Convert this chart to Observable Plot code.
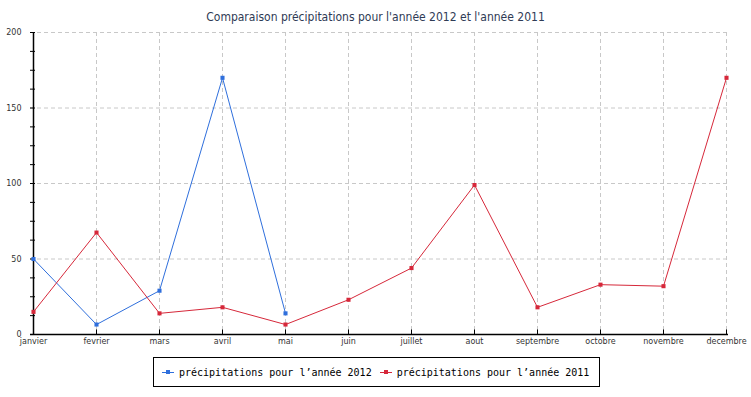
<!DOCTYPE html>
<html><head><meta charset="utf-8">
<script src="https://cdn.jsdelivr.net/npm/d3@7"></script>
<script src="https://cdn.jsdelivr.net/npm/@observablehq/plot@0.6"></script>
<style>
body{margin:0;background:#fff;}
#wrap{width:751px;height:397px;position:relative;}
#title{height:16px;padding-top:10px;text-align:center;font:12px "DejaVu Sans Condensed","DejaVu Sans",sans-serif;line-height:14px;color:#2f3b55;}
#legend{position:absolute;left:153px;top:357px;width:445px;height:28px;border:1px solid #000;box-sizing:content-box;font:10px "DejaVu Sans Mono",monospace;display:flex;align-items:center;padding-left:0;}
#legend span.sw{display:inline-block;position:relative;width:12px;height:10px;margin:0 5px 0 8px;}
#legend span.sw:before{content:"";position:absolute;left:0;right:0;top:5px;height:1px;background:currentColor;}
#legend span.sw:after{content:"";position:absolute;left:4px;top:3px;width:4px;height:4px;background:currentColor;}
</style></head>
<body><div id="wrap"><div id="title">Comparaison précipitations pour l'année 2012 et l'année 2011</div><div id="chart"></div>
<div id="legend"></div></div>
<script>
const months = ["janvier","fevrier","mars","avril","mai","juin","juillet","aout","septembre","octobre","novembre","decembre"];
const rain2012 = [50, 6.6, 29, 170, 14];
const rain2011 = [15, 67.5, 14, 18, 6.6, 23, 44, 99, 18, 33, 32, 170];
const seriesNames = ["précipitations pour l’année 2012", "précipitations pour l’année 2011"];
const seriesColors = ["#2f6fdc", "#d6283a"];
const yTicks = [0, 50, 100, 150, 200];
const yMinor = d3.range(0, 200.1, 12.5);

const d2012 = rain2012.map((v, i) => ({month: months[i], value: v}));
const d2011 = rain2011.map((v, i) => ({month: months[i], value: v}));

const chart = Plot.plot({
  width: 751, height: 324,
  marginTop: 6, marginBottom: 16, marginLeft: 30, marginRight: 23,
  style: {fontFamily: "'DejaVu Sans', sans-serif", background: "#fff"},
  x: {type: "point", domain: months, padding: 0, label: null},
  y: {domain: [0, 200], label: null},
  marks: [
    Plot.ruleY(yTicks.filter(d => d > 0), {stroke: "#c8c8c8", strokeDasharray: "4,3", strokeOpacity: 1}),
    Plot.ruleX(months.slice(1), {stroke: "#c8c8c8", strokeDasharray: "4,3", strokeOpacity: 1}),
    Plot.axisY({ticks: yTicks, tickSize: 0, tickPadding: 9, fontSize: 8, color: "#333"}),
    Plot.axisX({tickSize: 0, tickPadding: 4, fontSize: 8, color: "#333"}),
    Plot.axisY({ticks: yMinor, tickSize: -5, tickFormat: () => "", stroke: "#000", strokeOpacity: 1}),
    Plot.ruleX(months, {x: d => d, y1: 0, y2: 3, stroke: "#000"}),
    Plot.ruleY([0], {stroke: "#000", strokeWidth: 1.5}),
    Plot.ruleX(["janvier"], {stroke: "#000", strokeWidth: 1.5}),
    Plot.line(d2012, {x: "month", y: "value", stroke: seriesColors[0], strokeWidth: 1}),
    Plot.dot(d2012, {x: "month", y: "value", symbol: "square", r: 2.3, fill: seriesColors[0]}),
    Plot.line(d2011, {x: "month", y: "value", stroke: seriesColors[1], strokeWidth: 1}),
    Plot.dot(d2011, {x: "month", y: "value", symbol: "square", r: 2.3, fill: seriesColors[1]})
  ]
});
document.getElementById("chart").appendChild(chart);
chart.style.display = "block";

const leg = document.getElementById("legend");
seriesNames.forEach((n, i) => {
  const sw = document.createElement("span");
  sw.className = "sw"; sw.style.color = seriesColors[i];
  leg.appendChild(sw);
  const t = document.createElement("span");
  t.textContent = n;
  leg.appendChild(t);
});
</script></body></html>
